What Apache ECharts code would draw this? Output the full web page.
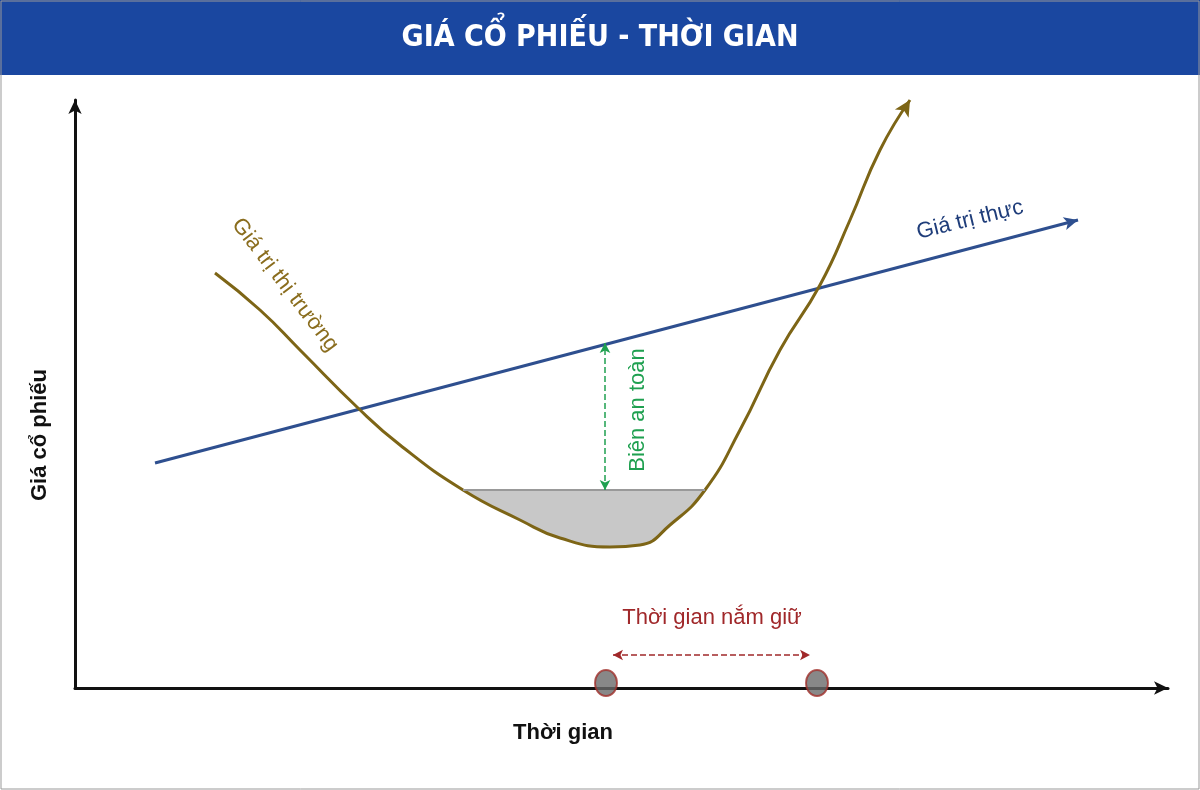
<!DOCTYPE html>
<html><head><meta charset="utf-8">
<script src="https://cdn.jsdelivr.net/npm/echarts@6/dist/echarts.min.js"></script>
<style>html,body{margin:0;padding:0;background:#fff}#c{width:1200px;height:790px}</style>
</head><body><div id="c"></div>
<script>
// đường giá trị thị trường (x: thời gian, y: giá)
var marketX = [140,185,225,283,325,388,445,485,535,565,595,630,665,705,745,775,805,835];
var marketY = [415,378,338,280,243,198,168,150,141,143,163,198,258,338,403,468,538,588];
// vùng đáy (mua dưới giá trị thực)
var bottomX = [388,445,485,535,565,595,630];
var bottomY = [198,168,150,141,143,163,198];
var bottomLevel = 198;
// đường giá trị thực
var trueX = [80,1003];
var trueY = [225,468];
// biên an toàn
var marginX = 530, marginFrom = 198, marginTo = 345;
// thời gian nắm giữ
var holdX = [531,742];
var holdY = 5, holdArrowY = 33;

function pairs(xs, ys){ return xs.map(function(x,i){ return [x, ys[i]]; }); }

var chart = echarts.init(document.getElementById('c'));
var marketData = pairs(marketX, marketY);
marketData[marketData.length-1] = {value: marketData[marketData.length-1], symbol:'arrow', symbolSize:[12,16], symbolRotate:-31, itemStyle:{color:'#7d6516'}};
var trueData = pairs(trueX, trueY);
trueData[1] = {value: trueData[1], symbol:'arrow', symbolSize:[10,14], symbolRotate:-75, itemStyle:{color:'#2e4f8f'}};

chart.setOption({
  animation:false,
  backgroundColor:'#fff',
  grid:{left:75, right:32, top:100, bottom:102},
  xAxis:{type:'value', min:0, max:1093, axisLine:{lineStyle:{color:'#111', width:3}, symbol:['none','arrow'], symbolSize:[10,14]},
    axisTick:{show:false}, axisLabel:{show:false}, splitLine:{show:false}},
  yAxis:{type:'value', min:0, max:588, axisLine:{show:true, lineStyle:{color:'#111', width:3}, symbol:['none','arrow'], symbolSize:[10,14]},
    axisTick:{show:false}, axisLabel:{show:false}, splitLine:{show:false}},
  graphic:[
    {type:'rect', shape:{x:0,y:0,width:1200,height:75}, style:{fill:'#1a47a0'}},
    {type:'rect', shape:{x:1,y:1,width:1198,height:788}, style:{fill:'none', stroke:'#999', lineWidth:1}},
    {type:'text', x:600, y:38, style:{text:'GIÁ CỔ PHIẾU - THỜI GIAN', fill:'#fff', font:'bold 30px "Liberation Sans Narrow", "DejaVu Sans Condensed", sans-serif', align:'center', verticalAlign:'middle'}},
    {type:'text', x:563, y:733, style:{text:'Thời gian', fill:'#111', font:'bold 22px "Liberation Sans", Arial, sans-serif', align:'center', verticalAlign:'middle'}},
    {type:'text', x:40, y:435, rotation:Math.PI/2, style:{text:'Giá cổ phiếu', fill:'#111', font:'bold 22px "Liberation Sans", Arial, sans-serif', align:'center', verticalAlign:'middle'}},
    {type:'text', x:285, y:285, rotation:-0.92, style:{text:'Giá trị thị trường', fill:'#8a6d1e', font:'22px "Liberation Sans", Arial, sans-serif', align:'center', verticalAlign:'middle'}},
    {type:'text', x:970, y:220, rotation:0.24, style:{text:'Giá trị thực', fill:'#1f3d7a', font:'22px "Liberation Sans", Arial, sans-serif', align:'center', verticalAlign:'middle'}},
    {type:'text', x:638, y:410, rotation:Math.PI/2, style:{text:'Biên an toàn', fill:'#1fa050', font:'22px "Liberation Sans", Arial, sans-serif', align:'center', verticalAlign:'middle'}},
    {type:'text', x:712, y:618, style:{text:'Thời gian nắm giữ', fill:'#a0282a', font:'22px "Liberation Sans", Arial, sans-serif', align:'center', verticalAlign:'middle'}}
  ],
  series:[
    {type:'line', data:pairs(bottomX, bottomY), smooth:0.5, showSymbol:false, lineStyle:{width:0},
      areaStyle:{origin:bottomLevel, color:'#c8c8c8', opacity:1},
      markLine:{silent:true, symbol:'none', label:{show:false}, lineStyle:{color:'#999', type:'solid', width:2},
        data:[[{coord:[bottomX[0], bottomLevel]},{coord:[bottomX[bottomX.length-1], bottomLevel]}]]}},
    {type:'line', data:trueData, showSymbol:true, symbol:'none', lineStyle:{color:'#2e4f8f', width:3}},
    {type:'line', data:marketData, smooth:0.5, symbol:'none', lineStyle:{color:'#7d6516', width:3},
      markLine:{silent:true, symbol:['arrow','arrow'], symbolSize:[8,10], label:{show:false},
        data:[
          [{coord:[marginX, marginFrom], lineStyle:{color:'#1fa050', type:'dashed', width:1.5}},{coord:[marginX, marginTo]}],
          [{coord:[holdX[0]+7, holdArrowY], lineStyle:{color:'#a0282a', type:'dashed', width:1.5}},{coord:[holdX[1]-7, holdArrowY]}]
        ]}},
    {type:'scatter', data:pairs(holdX, [holdY, holdY]), symbol:'circle', symbolSize:[22,26],
      itemStyle:{color:'#6a6a6a', borderColor:'#a0302a', borderWidth:2}, z:5}
  ]
});
</script></body></html>
